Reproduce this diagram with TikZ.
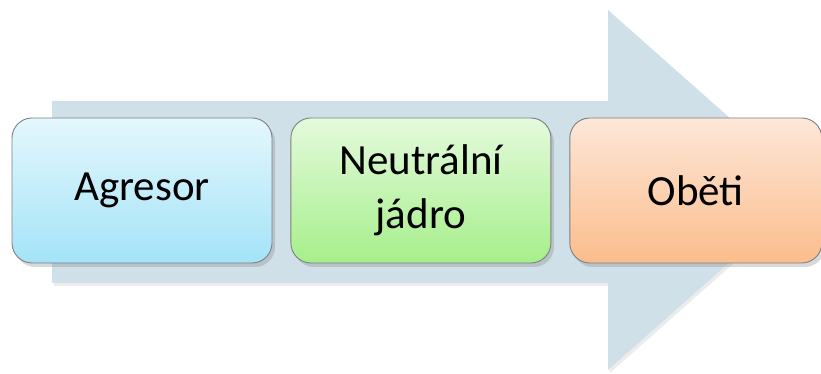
\documentclass[tikz,border=0pt]{standalone}
\usepackage{fontspec}
\setmainfont{Carlito}
\usepackage{tikz}
\usetikzlibrary{positioning,shadows}

\definecolor{arrowfill}{HTML}{CFE0E8}
\definecolor{bluetop}{HTML}{E4F7FD}
\definecolor{bluebot}{HTML}{A4E3F8}
\definecolor{greentop}{HTML}{E4FADC}
\definecolor{greenbot}{HTML}{A6EF8A}
\definecolor{orangetop}{HTML}{FDE7D8}
\definecolor{orangebot}{HTML}{FBBD8C}
\definecolor{boxline}{HTML}{7F7F7F}

\begin{document}
\begin{tikzpicture}[x=1pt, y=1pt,
	stage/.style={draw=boxline, line width=0.9pt, rounded corners=20pt,
		minimum width=260pt, minimum height=145pt, align=center,
		font=\fontsize{43}{54}\selectfont, inner sep=0pt,
		drop shadow={shadow xshift=3pt, shadow yshift=-4pt, opacity=0.3}},
	flow/.style={fill=arrowfill,
		drop shadow={shadow xshift=2pt, shadow yshift=-3pt, opacity=0.15}},
	node distance=18pt]
	% Canvas
	\useasboundingbox (0,0) rectangle (821,374);

	% Big arrow
	\path[flow] (52,91) -- (52,273) -- (608,273) -- (608,364)
		-- (811,184) -- (608,4) -- (608,91) -- cycle;

	% Stages
	\node[stage, top color=bluetop, bottom color=bluebot] (agresor) at (142,183.5) {Agresor};
	\node[stage, top color=greentop, bottom color=greenbot, right=of agresor] (jadro) {Neutrální\\jádro};
	\node[stage, top color=orangetop, bottom color=orangebot, minimum width=252pt, right=of jadro] (obeti) {Oběti};
\end{tikzpicture}
\end{document}
